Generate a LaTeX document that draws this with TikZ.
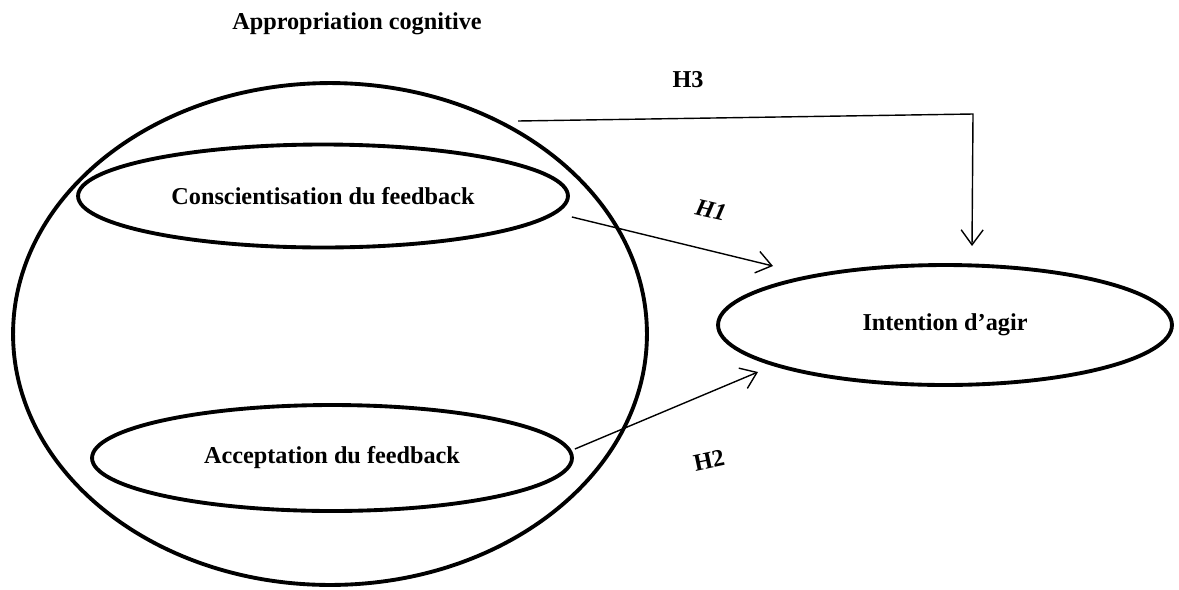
\documentclass[tikz,border=0pt]{standalone}
\usepackage{fontspec}
\setmainfont{Liberation Serif}
\usepackage{tikz}
\usetikzlibrary{shapes.geometric, arrows.meta}

\tikzset{
  bloc/.style={ellipse, draw, line width=2.2pt, inner sep=0pt},
  lien/.style={-{Straight Barb[length=3mm, width=4.4mm]}, line width=0.8pt},
  lbl/.style={font=\fontsize{13.8}{16}\selectfont\bfseries}
}

\begin{document}
\begin{tikzpicture}[x=0.02cm, y=-0.02cm]
  \useasboundingbox (0,0) rectangle (1179,589);
  % construit global et ses deux dimensions
  \node[lbl] (titre) at (357,24) {Appropriation cognitive};
  \node[bloc, minimum width=12.68cm, minimum height=10.04cm] (appro) at (330,334) {};
  \node[bloc, lbl, minimum width=9.8cm, minimum height=2.06cm] (consc) at (323,196) {Conscientisation du feedback};
  \node[bloc, lbl, minimum width=9.6cm, minimum height=2.12cm] (accep) at (332,458) {Acceptation du feedback};
  \node[bloc, lbl, minimum width=9.08cm, minimum height=2.4cm] (inten) at (945,325) {Intention d'agir};
  % hypotheses
  \coordinate (coin) at (973,114);
  \coordinate (pt3) at (972,246);
  \coordinate (pt1) at (773,266);
  \coordinate (pt2) at (758,372);
  \draw[lien] ([shift={(188,-213)}]appro.center) -- (coin) -- (pt3);
  \draw[lien] ([shift={(2,21)}]consc.east) -- (pt1);
  \draw[lien] ([shift={(1,-9)}]accep.east) -- (pt2);
  \node[lbl] (h3) at (688,80) {H3};
  \node[lbl, rotate=-13] (h1) at (711,210) {\itshape H1};
  \node[lbl, rotate=12] (h2) at (709,460) {H2};
\end{tikzpicture}
\end{document}
